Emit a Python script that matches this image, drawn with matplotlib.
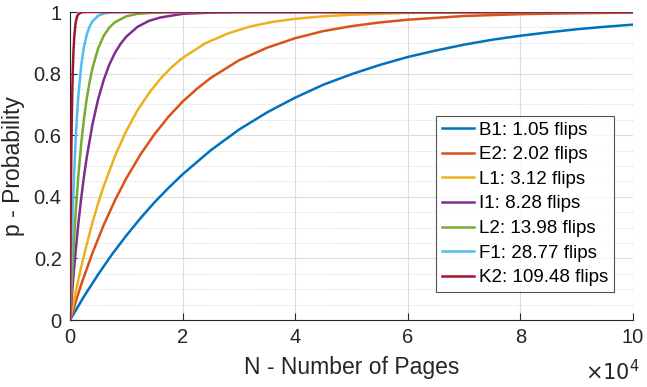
import matplotlib
matplotlib.use('Agg')
import matplotlib.pyplot as plt
from matplotlib.ticker import MultipleLocator

plt.rcParams['font.family'] = ['Liberation Sans', 'DejaVu Sans']

# N (pages) and p values, one pair of lists per module
labels = ['B1: 1.05 flips', 'E2: 2.02 flips', 'L1: 3.12 flips', 'I1: 8.28 flips',
          'L2: 13.98 flips', 'F1: 28.77 flips', 'K2: 109.48 flips']

n_b1 = [0, 2500, 5000, 7500, 10000, 12500, 15000, 17500, 20000, 25000, 30000, 35000, 40000,
        45000, 50000, 55000, 60000, 65000, 70000, 75000, 80000, 85000, 90000, 95000, 100000]
p_b1 = [0, 0.077, 0.148, 0.214, 0.274, 0.330, 0.382, 0.429, 0.473, 0.551, 0.618, 0.674, 0.722,
        0.764, 0.798, 0.828, 0.854, 0.875, 0.894, 0.910, 0.923, 0.934, 0.944, 0.952, 0.959]

n_e2 = [0, 2000, 4000, 6000, 8000, 10000, 12500, 15000, 17500, 20000, 22500, 25000, 30000,
        35000, 40000, 45000, 50000, 55000, 60000, 70000, 80000, 90000, 100000]
p_e2 = [0, 0.116, 0.218, 0.309, 0.389, 0.460, 0.537, 0.603, 0.660, 0.709, 0.750, 0.786, 0.843,
        0.884, 0.915, 0.938, 0.954, 0.966, 0.975, 0.987, 0.993, 0.996, 0.998]

n_l1 = [0, 1000, 2000, 3000, 4000, 5000, 6000, 8000, 10000, 12000, 14000, 16000, 18000, 20000,
        24000, 28000, 32000, 36000, 40000, 45000, 50000, 60000, 70000, 100000]
p_l1 = [0, 0.091, 0.173, 0.248, 0.317, 0.379, 0.435, 0.533, 0.614, 0.681, 0.736, 0.782, 0.820, 0.851,
        0.898, 0.930, 0.953, 0.968, 0.978, 0.986, 0.991, 0.997, 0.999, 1.0]

n_i1 = [0, 500, 1000, 1500, 2000, 2500, 3000, 4000, 5000, 6000, 7000, 8000, 9000, 10000,
        12000, 14000, 16000, 20000, 25000, 30000, 100000]
p_i1 = [0, 0.119, 0.223, 0.316, 0.397, 0.468, 0.531, 0.636, 0.717, 0.780, 0.830, 0.868, 0.897, 0.920,
        0.952, 0.971, 0.982, 0.994, 0.998, 0.9995, 1.0]

n_l2 = [0, 500, 1000, 1500, 2000, 2500, 3000, 3500, 4000, 5000, 6000, 7000, 8000, 10000,
        12000, 15000, 20000, 100000]
p_l2 = [0, 0.192, 0.347, 0.473, 0.574, 0.656, 0.722, 0.775, 0.818, 0.882, 0.923, 0.950, 0.967, 0.986,
        0.994, 0.998, 1.0, 1.0]

n_f1 = [0, 250, 500, 750, 1000, 1250, 1500, 2000, 2500, 3000, 3500, 4000, 5000, 6000, 7000,
        8000, 10000, 100000]
p_f1 = [0, 0.197, 0.355, 0.482, 0.584, 0.666, 0.732, 0.827, 0.889, 0.928, 0.954, 0.970, 0.988, 0.995, 0.998,
        0.999, 1.0, 1.0]

n_k2 = [0, 50, 100, 150, 200, 250, 300, 400, 500, 600, 750, 1000, 1250, 1500, 2000, 3000, 100000]
p_k2 = [0, 0.154, 0.284, 0.394, 0.487, 0.566, 0.633, 0.737, 0.812, 0.865, 0.918, 0.965, 0.985, 0.993,
        0.999, 1.0, 1.0]

colors = ['#0072BD', '#D95319', '#EDB120', '#7E2F8E', '#77AC30', '#4DBEEE', '#A2142F']
series = [(n_b1, p_b1), (n_e2, p_e2), (n_l1, p_l1), (n_i1, p_i1),
          (n_l2, p_l2), (n_f1, p_f1), (n_k2, p_k2)]

fig = plt.figure(figsize=(6.47, 3.87), dpi=100)
ax = fig.add_axes([70 / 647, 67 / 387, 563 / 647, 308 / 387])

for (n, p), c, lab in zip(series, colors, labels):
    ax.plot(n, p, color=c, linewidth=1.8, label=lab, zorder=3)

ax.set_xlim(0, 100000)
ax.set_ylim(0, 1)
ax.set_xticks([0, 20000, 40000, 60000, 80000, 100000])
ax.set_xticklabels(['0', '2', '4', '6', '8', '10'])
ax.set_yticks([0, 0.2, 0.4, 0.6, 0.8, 1.0])
ax.set_yticklabels(['0', '0.2', '0.4', '0.6', '0.8', '1'])
ax.yaxis.set_minor_locator(MultipleLocator(0.05))

ax.grid(True, which='major', color='#dcdcdc', linewidth=0.8)
ax.grid(True, which='minor', axis='y', color='#d0d0d0', linestyle=':', linewidth=0.7)
ax.set_axisbelow(True)

for s in ['top', 'right']:
    ax.spines[s].set_visible(False)
for s in ['left', 'bottom']:
    ax.spines[s].set_color('#262626')
    ax.spines[s].set_linewidth(0.8)
ax.tick_params(which='major', direction='in', length=5, labelsize=14.5, colors='#262626', pad=6)
ax.tick_params(which='minor', length=0)

ax.set_xlabel('N - Number of Pages', fontsize=16.5, color='#262626', labelpad=6)
ax.set_ylabel('p - Probability', fontsize=16.5, color='#262626', labelpad=6)
fig.text(612 / 647, 15 / 387, r'$\times10^{4}$', fontsize=15, color='#262626', ha='center', va='center')

leg = ax.legend(loc='lower right', bbox_to_anchor=(614 / 647, 95 / 387), bbox_transform=fig.transFigure,
                fontsize=13.5, frameon=True, fancybox=False, handlelength=1.7, handletextpad=0.3,
                borderpad=0.3, labelspacing=0.4, borderaxespad=0)
leg.get_frame().set_edgecolor('#262626')
leg.get_frame().set_linewidth(0.8)

fig.savefig('out.png', dpi=100)
